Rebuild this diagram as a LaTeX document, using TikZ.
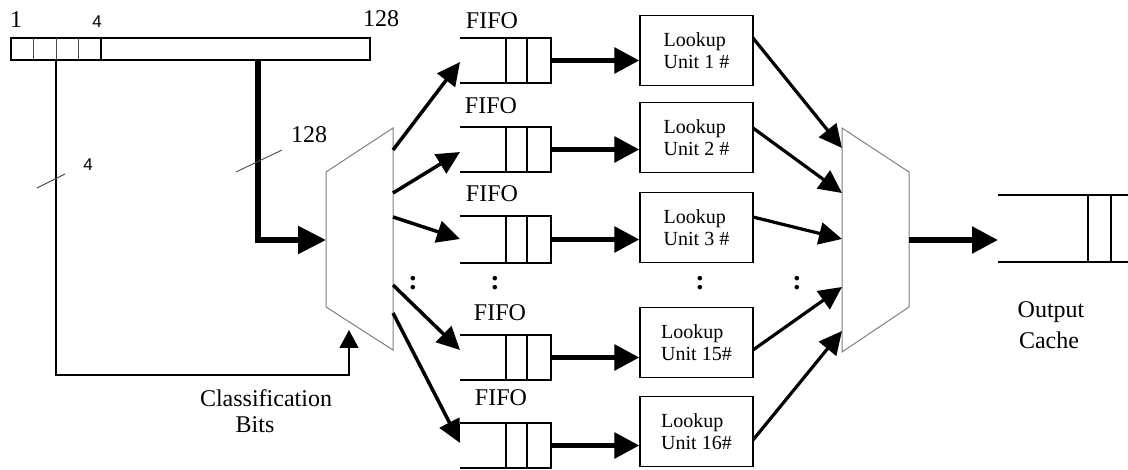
\documentclass[tikz,border=0pt]{standalone}
\usepackage{fontspec}
\setmainfont{Liberation Serif}
\newfontfamily\sansf{Liberation Sans}
\usetikzlibrary{arrows.meta}
\begin{document}
\begin{tikzpicture}[x=1pt,y=-1pt,
  thinln/.style={line width=1.2pt},
  muxln/.style={draw=black!50, line width=1pt, fill=white},
  bigarrow/.style={line width=5.5pt, -{Triangle[length=26pt,width=26pt]}},
  midarrow/.style={line width=3.5pt, -{Triangle[length=23pt,width=22pt]}},
  lbox/.style={draw, line width=1.2pt, minimum width=113pt, minimum height=70pt, inner sep=0pt, align=left, font=\fontsize{20}{22}\selectfont},
  lab/.style={inner sep=0pt, font=\fontsize{24}{27}\selectfont},
  smallnum/.style={inner sep=0pt, font=\sansf\fontsize{17}{19}\selectfont},
  dots/.style={inner sep=0pt, font=\bfseries\fontsize{28}{30}\selectfont}]
\useasboundingbox (0,0) rectangle (1128,470);

% top register
\draw[thinln] (11,38) rectangle (370,60);
\foreach \x in {33,56,78} \draw[line width=0.9pt, black!70] (\x,38) -- (\x,60);
\draw[thinln] (101,38) -- (101,60);
\node[lab] (n1) at (16,20) {1};
\node[smallnum] (n4) at (97,22) {4};
\node[lab] (n128) at (381,19) {128};

% named coordinates
\coordinate (regA) at (56,60);
\coordinate (regB) at (258,60);
\coordinate (cornerB) at (258,240);
\coordinate (muxIn) at (326,240);
\coordinate (cl1) at (56,375);
\coordinate (cl2) at (349,375);
\coordinate (clTip) at (349,330);

% left mux
\draw[muxln] (326,172) coordinate (LM1) -- (393,128) coordinate (LM2) -- (393,350) coordinate (LM3) -- (326,307) coordinate (LM4) -- cycle;
% right mux
\draw[muxln] (842,128) coordinate (RM1) -- (909,172) coordinate (RM2) -- (909,307) coordinate (RM3) -- (842,352) coordinate (RM4) -- cycle;

% classification bits line
\draw[thinln, -{Triangle[length=18pt,width=19pt]}] (regA) -- (cl1) -- (cl2) -- (clTip);
% 128-bit thick line
\draw[bigarrow, line join=miter, -{Triangle[length=28pt,width=27pt]}] (regB) -- (cornerB) -- (muxIn);

% width ticks
\coordinate (t4a) at (37,188); \coordinate (t4b) at (65,174);
\draw[line width=0.9pt, black!70] (t4a) -- (t4b);
\node[smallnum] (w4) at (88,165) {4};
\coordinate (t128a) at (236,172); \coordinate (t128b) at (282,150);
\draw[line width=0.9pt, black!70] (t128a) -- (t128b);
\node[lab] (w128) at (309,135) {128};

\node[lab] (cls1) at (266,398) {Classification};
\node[lab] (cls2) at (255,425) {Bits};

% FIFOs
\foreach \i/\t/\b in {1/38/83, 2/127/172, 3/216/263, 15/335/380, 16/423/468}{
  \draw[thinln] (460,\t) -- (551,\t) -- (551,\b) -- (460,\b);
  \draw[thinln] (506,\t) -- (506,\b);
  \draw[thinln] (527,\t) -- (527,\b);
  \coordinate (F\i in) at (460,{(\t+\b)/2});
  \coordinate (F\i out) at (551,{(\t+\b)/2});
}
\node[lab] (ff1) at (492,21) {FIFO};
\node[lab] (ff2) at (491,106) {FIFO};
\node[lab] (ff3) at (492,194) {FIFO};
\node[lab] (ff15) at (500,313) {FIFO};
\node[lab] (ff16) at (501,398) {FIFO};

% lookup units
\node[lbox] (L1) at (696.5,50.5) {Lookup\\Unit 1 \#};
\node[lbox] (L2) at (696.5,137.5) {Lookup\\Unit 2 \#};
\node[lbox] (L3) at (696.5,227.5) {Lookup\\Unit 3 \#};
\node[lbox] (L15) at (696.5,342.5) {Lookup\\Unit 15\#};
\node[lbox] (L16) at (696.5,431.5) {Lookup\\Unit 16\#};

% FIFO -> lookup
\foreach \i in {1,2,3,15,16}
  \draw[bigarrow, -{Triangle[length=25pt,width=25pt]}] (F\i out) -- (F\i out -| L\i.west);

% mux -> FIFO
\coordinate (m1) at (393,150); \coordinate (m2) at (393,193); \coordinate (m3) at (393,217);
\coordinate (m15) at (393,285); \coordinate (m16) at (393,313);
\coordinate (p1) at (460,62); \coordinate (p2) at (460,152); \coordinate (p3) at (460,239);
\coordinate (p15) at (460,350); \coordinate (p16) at (460,443);
\foreach \i in {1,2,3,15,16} \draw[midarrow] (m\i) -- (p\i);

% lookup -> right mux
\coordinate (s1) at (753,38); \coordinate (s2) at (753,128); \coordinate (s3) at (753,217);
\coordinate (s15) at (753,350); \coordinate (s16) at (753,440);
\coordinate (r1) at (842,148); \coordinate (r2) at (842,193); \coordinate (r3) at (842,239);
\coordinate (r15) at (842,287); \coordinate (r16) at (842,331);
\foreach \i in {1,2,3,15,16} \draw[midarrow, line width=3.2pt] (s\i) -- (r\i);

% dots
\node[dots] (d1) at (413,283) {:};
\node[dots] (d2) at (495,283) {:};
\node[dots] (d3) at (700,283) {:};
\node[dots] (d4) at (797,283) {:};

% output
\coordinate (muxOut) at (909,240);
\coordinate (cacheIn) at (998,240);
\draw[bigarrow] (muxOut) -- (cacheIn);
\draw[thinln] (998,195) -- (1128,195);
\draw[thinln] (998,262) -- (1128,262);
\draw[thinln] (1088,195) -- (1088,262);
\draw[thinln] (1111,195) -- (1111,262);
\node[lab] (oc1) at (1051,312) {Output};
\node[lab] (oc2) at (1049,340) {Cache};
\end{tikzpicture}
\end{document}
